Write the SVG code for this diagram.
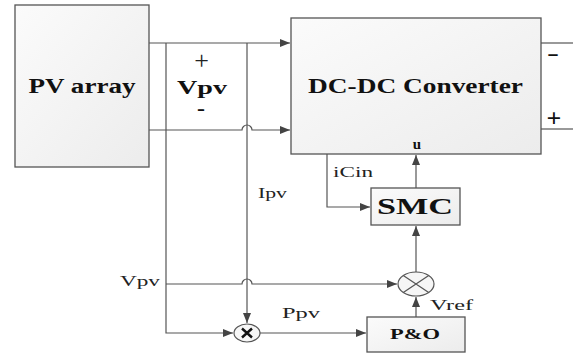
<svg xmlns="http://www.w3.org/2000/svg" width="573" height="354" viewBox="0 0 573 354">
<defs>
<linearGradient id="bg" x1="0" y1="0" x2="1" y2="1">
<stop offset="0" stop-color="#fbfbfb"/>
<stop offset="1" stop-color="#ececec"/>
</linearGradient>
<marker id="ah" viewBox="0 0 10 8" refX="10" refY="4" markerWidth="10" markerHeight="8" markerUnits="userSpaceOnUse" orient="auto">
<path d="M0,0 L10,4 L0,8 Z" fill="#444"/>
</marker>
</defs>
<style>
.box{fill:url(#bg);stroke:#555;stroke-width:1.3}
.ln{fill:none;stroke:#555;stroke-width:1.2}
.b{font-family:"Liberation Serif","Times New Roman",serif;font-weight:bold;fill:#111;text-anchor:middle}
.s{font-family:"Liberation Serif","Times New Roman",serif;fill:#222;text-anchor:middle}
.t{font-family:"Liberation Serif","Times New Roman",serif;fill:#222;font-size:15px}
</style>
<rect width="573" height="354" fill="#fff"/>
<g id="connectors">
<path class="ln" d="M149,43 H290" marker-end="url(#ah)"/>
<path class="ln" d="M149,130 H242 A5,5 0 0 1 252,130 H290" marker-end="url(#ah)"/>
<path class="ln" d="M166,43 V333 H233" marker-end="url(#ah)"/>
<path class="ln" d="M247,43 V323" marker-end="url(#ah)"/>
<path class="ln" d="M166,284 H242 A5,5 0 0 1 252,284 H397" marker-end="url(#ah)"/>
<path class="ln" d="M260,333 H366" marker-end="url(#ah)"/>
<path class="ln" d="M416,317 V297" marker-end="url(#ah)"/>
<path class="ln" d="M416,272 V226" marker-end="url(#ah)"/>
<path class="ln" d="M416,188 V155" marker-end="url(#ah)"/>
<path class="ln" d="M327,154 V207 H370" marker-end="url(#ah)"/>
<path class="ln" d="M541,43 H573"/>
<path class="ln" d="M541,129 H573"/>
</g>
<g id="pv-array">
<rect class="box" x="15" y="5" width="134" height="162"/>
<text class="b" x="82" y="93" font-size="20" textLength="107" lengthAdjust="spacingAndGlyphs">PV array</text>
</g>
<g id="vpv-labels">
<text class="s" x="201.5" y="69" font-size="26">+</text>
<text class="b" x="202" y="94" font-size="19" textLength="50" lengthAdjust="spacingAndGlyphs">Vpv</text>
<text class="b" x="201" y="115" font-size="20" textLength="8" lengthAdjust="spacingAndGlyphs">-</text>
</g>
<g id="dcdc">
<rect class="box" x="291" y="18" width="250" height="136"/>
<text class="b" x="415.5" y="93" font-size="21" textLength="215" lengthAdjust="spacingAndGlyphs">DC-DC Converter</text>
<text class="b" x="417" y="149" font-size="15">u</text>
</g>
<g id="outputs">
<text class="b" x="553" y="59.5" font-size="22" textLength="12" lengthAdjust="spacingAndGlyphs">-</text>
<text class="b" x="554" y="127" font-size="26">+</text>
</g>
<g id="smc">
<rect class="box" x="371" y="188" width="89" height="37"/>
<text class="b" x="415" y="214" font-size="24" textLength="76" lengthAdjust="spacingAndGlyphs">SMC</text>
</g>
<g id="sum">
<ellipse cx="416" cy="284" rx="18" ry="12" fill="#f6f6f6" stroke="#555" stroke-width="1.2"/>
<path class="ln" d="M403.3,275.5 L428.7,292.5 M403.3,292.5 L428.7,275.5"/>
</g>
<g id="multiplier">
<ellipse cx="247" cy="333" rx="13" ry="9" fill="#f6f6f6" stroke="#555" stroke-width="1.2"/>
<path d="M242,328.5 L252,337.5 M242,337.5 L252,328.5" stroke="#111" stroke-width="2.4" fill="none"/>
</g>
<g id="po">
<rect class="box" x="367" y="317" width="98" height="35"/>
<text class="b" x="415" y="339" font-size="15" textLength="50" lengthAdjust="spacingAndGlyphs">P&amp;O</text>
</g>
<g id="labels">
<text class="t" x="333" y="177" textLength="40" lengthAdjust="spacingAndGlyphs">iCin</text>
<text class="t" x="258" y="198" textLength="29" lengthAdjust="spacingAndGlyphs">Ipv</text>
<text class="t" x="120" y="286" textLength="40" lengthAdjust="spacingAndGlyphs">Vpv</text>
<text class="t" x="282" y="318" textLength="38" lengthAdjust="spacingAndGlyphs">Ppv</text>
<text class="t" x="430" y="310" textLength="43" lengthAdjust="spacingAndGlyphs">Vref</text>
</g>
</svg>
